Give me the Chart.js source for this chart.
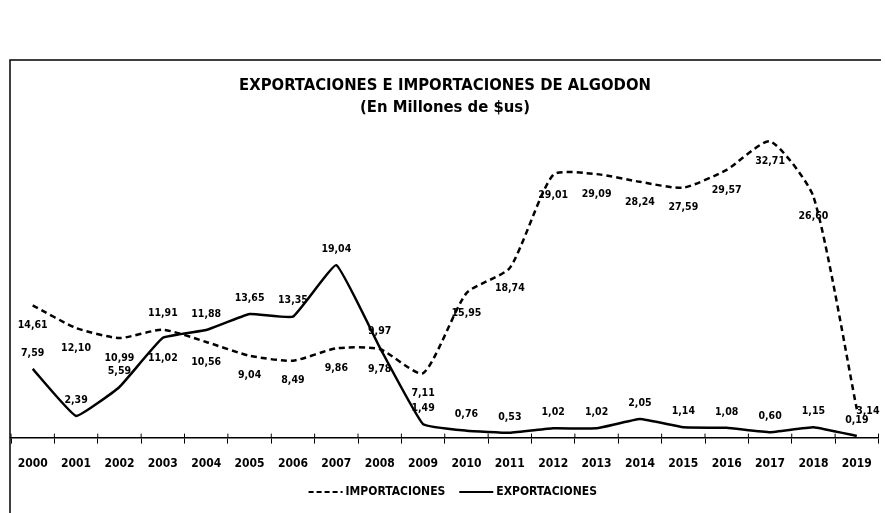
<!DOCTYPE html>
<html lang="es">
<head>
<meta charset="UTF-8">
<title>Exportaciones e Importaciones de Algodon</title>
<script src="https://cdn.jsdelivr.net/npm/chart.js"></script>
<style>
  html, body { margin: 0; padding: 0; background: #fff; }
  #wrap { width: 885px; height: 513px; position: relative; }
</style>
</head>
<body>
<div id="wrap"><canvas id="chart"></canvas></div>
<script>
// datos
const years = ['2000', '2001', '2002', '2003', '2004', '2005', '2006', '2007', '2008', '2009',
               '2010', '2011', '2012', '2013', '2014', '2015', '2016', '2017', '2018', '2019'];
const importaciones = [14.61, 12.10, 10.99, 11.91, 10.56, 9.04, 8.49, 9.86, 9.78, 7.11,
                       15.95, 18.74, 29.01, 29.09, 28.24, 27.59, 29.57, 32.71, 26.60, 3.14];
const exportaciones = [7.59, 2.39, 5.59, 11.02, 11.88, 13.65, 13.35, 19.04, 9.97, 1.49,
                       0.76, 0.53, 1.02, 1.02, 2.05, 1.14, 1.08, 0.60, 1.15, 0.19];

const FONT = "'Liberation Sans Narrow', 'DejaVu Sans Condensed', Arial, sans-serif";

// donde va cada etiqueta: 1 = debajo del punto, -1 = encima
const impSide = importaciones.map((v, i) => (i === 3 ? -1 : 1));
const expSide = exportaciones.map((v, i) => (i === 3 ? 1 : -1));

const framePlugin = {
    id: 'frame',
    beforeDraw(chart) {
        const ctx = chart.ctx;
        ctx.save();
        ctx.fillStyle = '#fff';
        ctx.fillRect(0, 0, chart.width, chart.height);
        ctx.strokeStyle = '#000';
        ctx.lineWidth = 1.5;
        ctx.beginPath();
        ctx.moveTo(10, chart.height);
        ctx.lineTo(10, 60);
        ctx.lineTo(chart.width - 4, 60);
        ctx.stroke();
        ctx.restore();
    },
    afterDraw(chart) {
        const x = chart.scales.x;
        const ctx = chart.ctx;
        const y0 = chart.chartArea.bottom;
        ctx.save();
        // marcas cortas que cruzan el eje por encima
        ctx.strokeStyle = '#000';
        ctx.lineWidth = 1;
        ctx.beginPath();
        for (let i = 0; i <= years.length; i++) {
            const px = x.getPixelForValue(i - 0.5);
            ctx.moveTo(px, y0 - 4);
            ctx.lineTo(px, y0);
        }
        ctx.stroke();

        // leyenda abajo, centrada
        ctx.font = 'bold 12px ' + FONT;
        ctx.fillStyle = '#000';
        ctx.textBaseline = 'middle';
        const ly = 492;
        const sample = 34, gapText = 3, gapItem = 14;
        const items = chart.data.datasets.map(ds => ({
            text: ds.label, dash: ds.borderDash || [], w: ctx.measureText(ds.label).width
        }));
        const total = items.reduce((s, it) => s + sample + gapText + it.w, 0) + gapItem * (items.length - 1);
        let lx = (chart.chartArea.left + chart.chartArea.right) / 2 + 8 - total / 2;
        items.forEach(it => {
            ctx.lineWidth = 2;
            ctx.setLineDash(it.dash.length ? [5, 3] : []);
            ctx.beginPath();
            ctx.moveTo(lx, ly);
            ctx.lineTo(lx + sample, ly);
            ctx.stroke();
            ctx.setLineDash([]);
            ctx.fillText(it.text, lx + sample + gapText, ly);
            lx += sample + gapText + it.w + gapItem;
        });
        ctx.restore();
    }
};

const labelPlugin = {
    id: 'valueLabels',
    afterDatasetsDraw(chart) {
        const ctx = chart.ctx;
        ctx.save();
        ctx.font = 'bold 10.5px ' + FONT;
        ctx.fillStyle = '#000';
        ctx.textAlign = 'center';
        ctx.textBaseline = 'middle';
        chart.data.datasets.forEach((ds, di) => {
            const sides = di === 0 ? impSide : expSide;
            chart.getDatasetMeta(di).data.forEach((pt, i) => {
                const txt = ds.data[i].toFixed(2).replace('.', ',');
                let x = pt.x;
                let y = pt.y + (sides[i] > 0 ? 20 : -16);
                if (di === 0 && i === years.length - 1) { x += 11; y = pt.y + 2; }
                ctx.fillText(txt, x, y);
            });
        });
        ctx.restore();
    }
};

new Chart(document.getElementById('chart'), {
    type: 'line',
    data: {
        labels: years,
        datasets: [{
            label: 'IMPORTACIONES',
            data: importaciones,
            borderColor: '#000',
            backgroundColor: 'transparent',
            borderWidth: 2.5,
            borderDash: [6, 4],
            pointRadius: 0,
            tension: 0.2
        }, {
            label: 'EXPORTACIONES',
            data: exportaciones,
            borderColor: '#000',
            backgroundColor: 'transparent',
            borderWidth: 2.5,
            pointRadius: 0,
            tension: 0.1
        }]
    },
    options: {
        responsive: true,
        maintainAspectRatio: false,
        animation: false,
        layout: { padding: { top: 70, left: 11, right: 6, bottom: 29 } },
        scales: {
            x: {
                offset: true,
                grid: { drawOnChartArea: false, tickLength: 6, color: '#000', offset: true },
                border: { color: '#000', width: 1.5 },
                ticks: { color: '#000', padding: 13, font: { family: FONT, size: 12, weight: 'bold' } }
            },
            y: {
                display: false,
                min: 0,
                max: 35
            }
        },
        plugins: {
            title: {
                display: true,
                text: 'EXPORTACIONES E IMPORTACIONES DE ALGODON',
                color: '#000',
                font: { family: FONT, size: 16.5, weight: 'bold' },
                padding: { top: 6, bottom: 2 }
            },
            subtitle: {
                display: true,
                text: '(En Millones de $us)',
                color: '#000',
                font: { family: FONT, size: 16.5, weight: 'bold' },
                padding: { top: 0, bottom: 3 }
            },
            legend: { display: false },
            tooltip: { enabled: false }
        }
    },
    plugins: [framePlugin, labelPlugin]
});
</script>
</body>
</html>
